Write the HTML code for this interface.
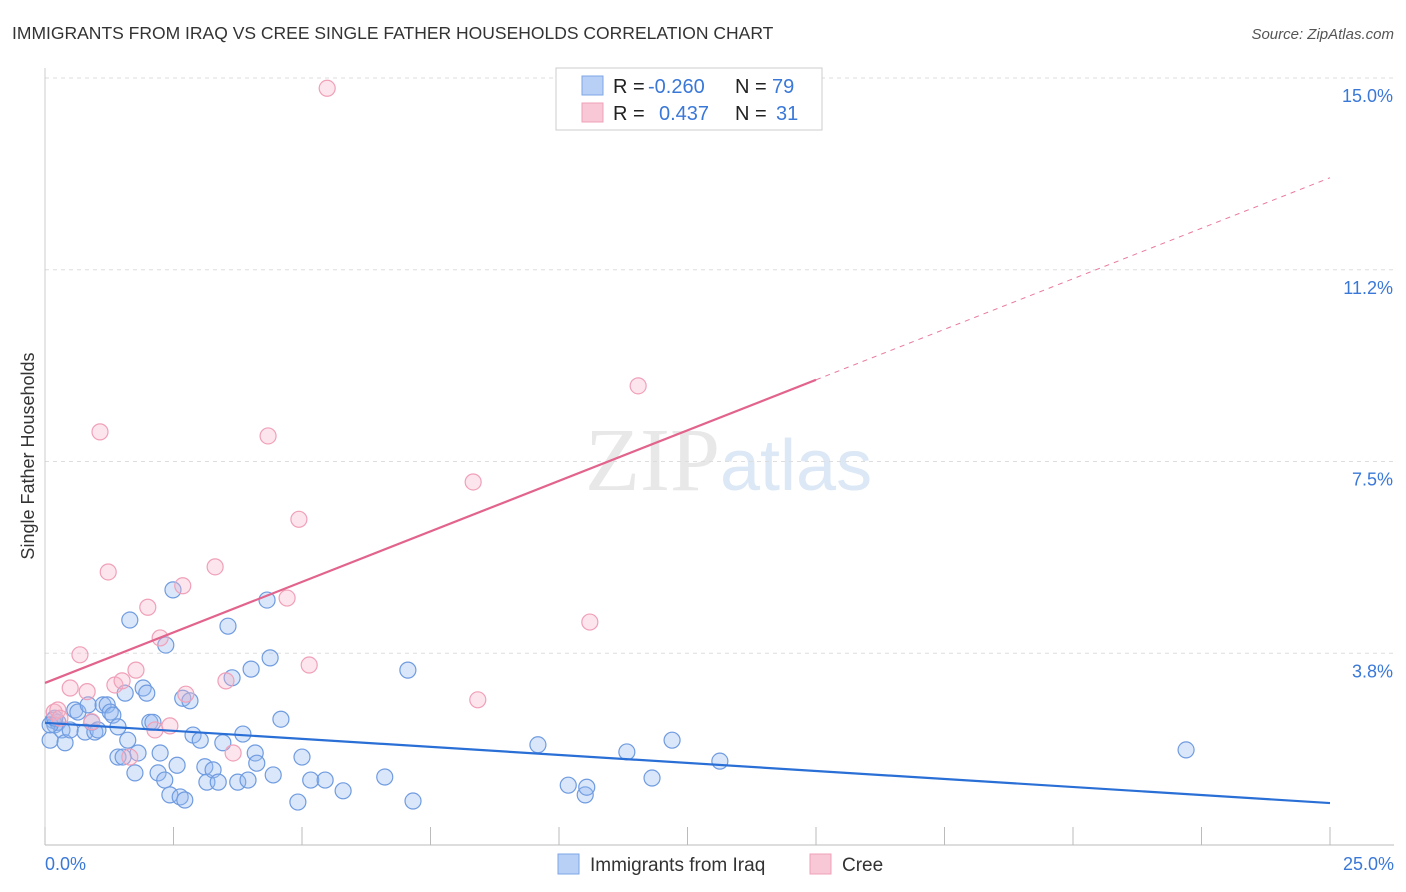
<!DOCTYPE html>
<html><head><meta charset="utf-8"><style>
body{margin:0;background:#fff;font-family:"Liberation Sans",sans-serif;}
svg{display:block}
</style></head><body>
<svg id="c" width="1406" height="892">
<text x="12" y="39" font-size="17.5" fill="#333">IMMIGRANTS FROM IRAQ VS CREE SINGLE FATHER HOUSEHOLDS CORRELATION CHART</text>
<text x="1394" y="39" font-size="15" fill="#555" font-style="italic" text-anchor="end">Source: ZipAtlas.com</text>
<text x="720" y="490" font-size="90" fill="#e8e8e8" text-anchor="end" font-family="Liberation Serif">ZIP</text>
<text x="720" y="490" font-size="72" fill="#dce8f6">atlas</text>
<text transform="translate(34,456) rotate(-90)" font-size="18" fill="#333" text-anchor="middle">Single Father Households</text>
<g id="grid"></g><g id="marks"></g>
<g>
<rect x="556" y="68" width="266" height="62" fill="#fff" stroke="#ccc"/>
<rect x="582" y="76" width="21" height="19" fill="#b8d0f5" stroke="#7ea6e6"/>
<rect x="582" y="103" width="21" height="19" fill="#f9c8d6" stroke="#f0a0b8"/>
<text x="613" y="93" font-size="20" fill="#222">R = </text><text x="648" y="93" font-size="20" fill="#3a78d8">-0.260</text>
<text x="735" y="93" font-size="20" fill="#222">N = </text><text x="772" y="93" font-size="20" fill="#3a78d8">79</text>
<text x="613" y="120" font-size="20" fill="#222">R = </text><text x="659" y="120" font-size="20" fill="#3a78d8">0.437</text>
<text x="735" y="120" font-size="20" fill="#222">N = </text><text x="776" y="120" font-size="20" fill="#3a78d8">31</text>
</g>
<g>
<rect x="558" y="854" width="21" height="20" fill="#b8d0f5" stroke="#7ea6e6"/>
<text x="590" y="871" font-size="19" fill="#333">Immigrants from Iraq</text>
<rect x="810" y="854" width="21" height="20" fill="#f9c8d6" stroke="#f0a0b8"/>
<text x="842" y="871" font-size="19" fill="#333">Cree</text>
</g>
</svg>
<script>
const xTicks=[0,2.5,5,7.5,10,12.5,15,17.5,20,22.5,25];
const yTicks=[3.75,7.5,11.25,15];
const yTickLabels=["3.8%","7.5%","11.2%","15.0%"];
const blueX=[0.1,0.16,0.19,0.25,0.33,0.39,0.49,0.58,0.64,0.78,0.84,0.91,0.97,1.03,1.13,1.21,1.27,1.32,1.42,1.42,1.52,1.56,1.61,1.65,1.75,1.81,1.91,1.98,2.04,2.1,2.2,2.24,2.33,2.35,2.43,2.49,2.57,2.63,2.68,2.72,2.82,2.88,3.02,3.11,3.15,3.27,3.37,3.46,3.56,3.64,3.75,3.85,3.95,4.01,4.09,4.12,4.32,4.38,4.44,4.59,4.92,5.0,5.17,5.45,5.8,6.61,7.06,7.16,9.59,10.18,10.51,10.54,11.32,11.81,12.2,13.13,22.2,0.1,0.19];
const blueY=[2.05,2.44,2.35,2.4,2.25,2.0,2.25,2.64,2.6,2.21,2.74,2.4,2.21,2.25,2.74,2.74,2.6,2.54,2.31,1.72,1.72,2.97,2.05,4.40,1.41,1.8,3.07,2.97,2.4,2.4,1.41,1.8,1.27,3.91,0.98,4.99,1.56,0.94,2.87,0.88,2.82,2.15,2.05,1.53,1.23,1.47,1.23,2.0,4.28,3.27,1.23,2.17,1.27,3.44,1.8,1.6,4.79,3.66,1.37,2.46,0.84,1.72,1.27,1.27,1.06,1.33,3.42,0.86,1.96,1.17,0.98,1.13,1.82,1.31,2.05,1.64,1.86,2.35,2.48];
const pinkX=[0.18,0.25,0.29,0.49,0.68,0.82,0.91,1.07,1.23,1.36,1.5,1.65,1.77,2.0,2.14,2.24,2.43,2.68,2.74,3.31,3.52,3.66,4.34,4.71,4.94,5.14,5.49,8.33,8.42,10.6,11.54];
const pinkY=[2.6,2.64,2.48,3.07,3.72,3.0,2.41,8.08,5.34,3.13,3.21,1.72,3.42,4.65,2.25,4.05,2.33,5.07,2.95,5.44,3.21,1.8,8.0,4.83,6.37,3.52,14.8,7.1,2.84,4.36,8.98];
const blueFit=[2.39,0.82], pinkFit=[3.17,13.05], pinkSolidEnd=15;
const X=v=>45+v*51.4, Y=v=>845-v*51.13;
const NS="http://www.w3.org/2000/svg";
function mk(t,a,p){const e=document.createElementNS(NS,t);for(const k in a)e.setAttribute(k,a[k]);p.appendChild(e);return e;}
const g=document.getElementById('grid'), m=document.getElementById('marks');
yTicks.forEach((t,i)=>{
 const l=mk('line',{x1:45,x2:1394,y1:Y(t),y2:Y(t),stroke:'#ddd','stroke-dasharray':'4,4'},g);
 
 
 const tx=mk('text',{x:1393,y:Y(t)+24,'font-size':18,fill:'#3a78d8','text-anchor':'end'},g);
 tx.textContent=yTickLabels[i];
 
 
});
const ax=mk('line',{x1:45,x2:1394,y1:845,y2:845,stroke:'#bbb'},g);


const ay=mk('line',{x1:45,x2:45,y1:68,y2:845,stroke:'#ccc'},g);


xTicks.forEach(t=>{
 const l=mk('line',{x1:X(t),x2:X(t),y1:827,y2:845,stroke:'#bbb'},g);
 
 
});
[[0,"0.0%",'start',45],[25,"25.0%",'end',1394]].forEach(a=>{
 const tx=mk('text',{x:a[3],y:870,'font-size':18,fill:'#3a78d8','text-anchor':a[2]},g);
 tx.textContent=a[1];
 
 
});
blueX.forEach((v,i)=>{
 const c=mk('circle',{cx:X(v),cy:Y(blueY[i]),r:8,fill:'rgba(150,185,240,0.35)',stroke:'#6f9be0','stroke-width':1.2},m);
 
 
});
pinkX.forEach((v,i)=>{
 const c=mk('circle',{cx:X(v),cy:Y(pinkY[i]),r:8,fill:'rgba(245,180,200,0.35)',stroke:'#f0a0b8','stroke-width':1.2},m);
 
 
});
const pAt=x=>pinkFit[0]+(pinkFit[1]-pinkFit[0])*x/25;
const pd=mk('line',{x1:X(pinkSolidEnd),y1:Y(pAt(pinkSolidEnd)),x2:X(25),y2:Y(pinkFit[1]),stroke:'#e87a9c','stroke-dasharray':'5,5','stroke-width':1},m);


const ps=mk('line',{x1:X(0),y1:Y(pinkFit[0]),x2:X(pinkSolidEnd),y2:Y(pAt(pinkSolidEnd)),stroke:'#e2638c','stroke-width':2.2},m);


const bl=mk('line',{x1:X(0),y1:Y(blueFit[0]),x2:X(25),y2:Y(blueFit[1]),stroke:'#2a6fd6','stroke-width':2.2},m);


</script>
</body></html>
